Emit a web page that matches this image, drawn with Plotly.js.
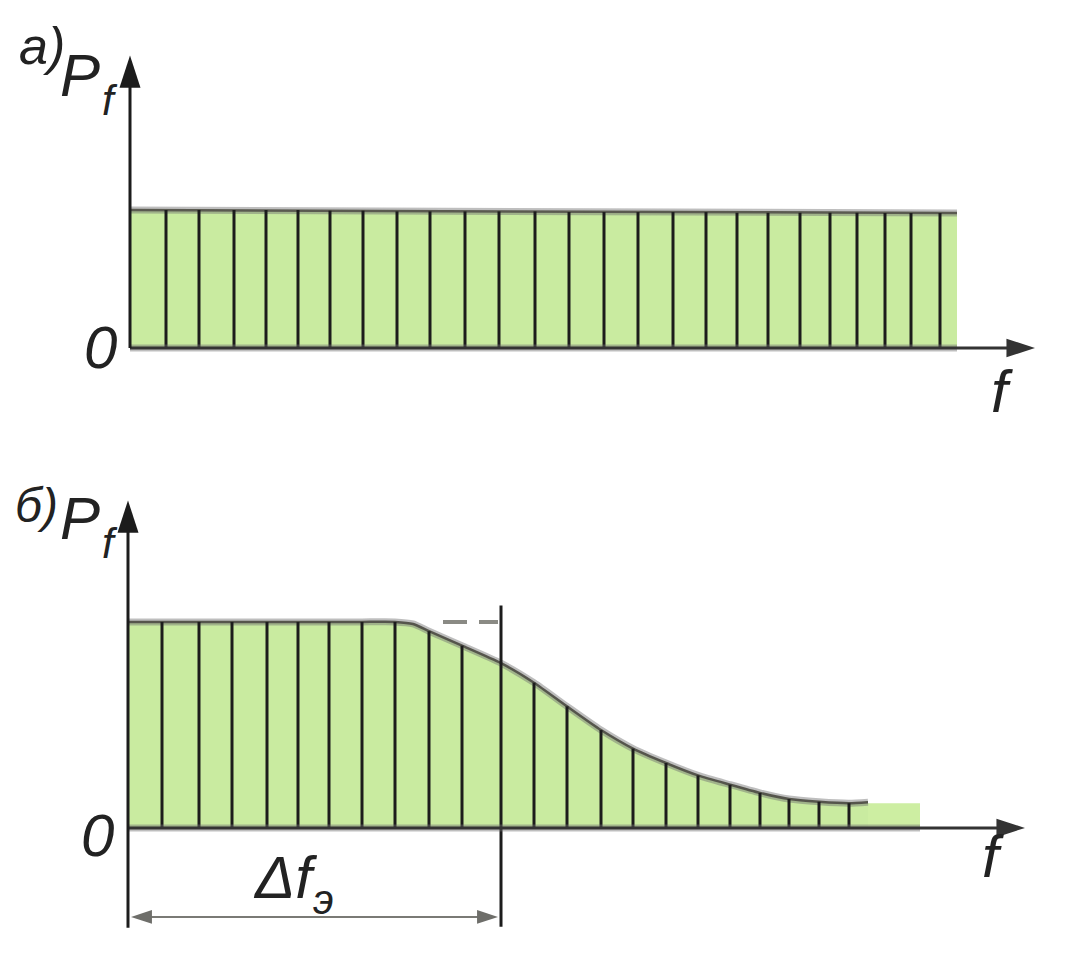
<!DOCTYPE html>
<html>
<head>
<meta charset="utf-8">
<script src="https://cdn.plot.ly/plotly-3.0.1.min.js"></script>
<style>
html,body{margin:0;padding:0;background:#fff;}
#chart{width:1073px;height:968px;}
</style>
</head>
<body>
<div id="chart"></div>
<script>
// ---------- DATA (f in arbitrary units, P normalised) ----------
// Panel а): flat (white-noise) spectrum
const topEdgeF = [0, 82.7];
const topEdgeP = [1.0, 0.978];
const topLineF = [3.6, 6.9, 10.4, 13.6, 16.8, 20.0, 23.3, 26.7, 30.0, 33.5, 36.9, 40.5, 43.9,
                  47.4, 50.8, 54.3, 57.6, 60.7, 63.8, 67.0, 70.0, 72.7, 75.5, 78.1, 81.0];
const topLineP = [1.0, 1.0, 1.0, 1.0, 1.0, 0.995, 0.995, 0.99, 0.99, 0.99, 0.99, 0.99, 0.985,
                  0.985, 0.985, 0.985, 0.985, 0.98, 0.98, 0.98, 0.98, 0.98, 0.978, 0.978, 0.978];
const topAxisEndF = 90.5;
const topAxisEndP = 2.12;

// Panel б): band-limited spectrum
const botCurveF = [0, 3.4, 7.1, 10.4, 13.9, 17.0, 20.1, 23.4, 26.7, 28.5, 30.1, 33.4, 37.3,
                   40.6, 43.9, 47.3, 50.5, 53.8, 57.0, 60.2, 63.2, 66.1, 69.1, 72.1, 74.0];
const botCurveP = [1.0, 1.0, 1.0, 1.0, 1.0, 1.0, 1.0, 1.0, 1.0, 0.99, 0.955, 0.885, 0.80,
                   0.705, 0.59, 0.475, 0.385, 0.315, 0.255, 0.21, 0.17, 0.14, 0.127, 0.12, 0.125];
const botLineF = [3.4, 7.1, 10.4, 13.9, 17.0, 20.1, 23.4, 26.7, 30.1, 33.4,
                  40.6, 43.9, 47.3, 50.5, 53.8, 57.0, 60.2, 63.2, 66.1, 69.1, 72.1];
const botLineP = [1.0, 1.0, 1.0, 1.0, 1.0, 1.0, 1.0, 1.0, 0.955, 0.885,
                  0.705, 0.59, 0.475, 0.385, 0.315, 0.255, 0.21, 0.17, 0.14, 0.127, 0.12];
const tailF = [74.0, 79.2];
const tailP = [0.12, 0.12];
const deltaF = 37.3;                 // Δf_э boundary
const deltaLineP = [1.08, -0.48];
const dashF = [31.5, 37.0];
const dashP = [1.0, 1.0];
const spanF = [0.3, 37.0];           // Δf_э dimension arrow
const spanP = -0.432;
const botAxisEndF = 89.7;
const botAxisTopP = 1.59;
const botAxisBottomP = -0.485;

// ---------- helpers ----------
const GREEN = '#c9eba0';
const INK = '#1c1c1c';
function stems(fs, ps) {
  const x = [], y = [];
  fs.forEach((f, i) => { x.push(f, f, null); y.push(0, ps[i], null); });
  return {x, y};
}
const W = 1073, H = 968;
const px = v => v / W, py = v => 1 - v / H;

const tS = stems(topLineF, topLineP);
const bS = stems(botLineF, botLineP);

function line(xa, ya, x, y, color, width, extra) {
  return Object.assign({x: x, y: y, xaxis: xa, yaxis: ya, type: 'scatter', mode: 'lines',
    line: {color: color, width: width}, hoverinfo: 'skip'}, extra || {});
}
function head(xa, ya, x, y, angle, color, size) {
  return {x: [x], y: [y], xaxis: xa, yaxis: ya, type: 'scatter', mode: 'markers',
    marker: {symbol: 'arrow', size: size, angle: angle, color: color, line: {width: 0}},
    hoverinfo: 'skip'};
}
const HALO = 'rgba(110,110,110,0.45)';
const spline = {shape: 'spline', smoothing: 0.6};

const traces = [
  // top panel
  line('x', 'y', topEdgeF, topEdgeP, GREEN, 0, {fill: 'tozeroy', fillcolor: GREEN}),
  line('x', 'y', topEdgeF, topEdgeP, HALO, 7),
  line('x', 'y', topEdgeF, topEdgeP, '#5a5a50', 2.5),
  line('x', 'y', tS.x, tS.y, INK, 3),
  line('x', 'y', [0, topEdgeF[1]], [0, 0], HALO, 7),
  line('x', 'y', [0, topAxisEndF - 1.5], [0, 0], '#333', 3),
  head('x', 'y', topAxisEndF, 0, 90, '#333', 30),
  line('x', 'y', [0, 0], [0, topAxisEndP - 0.1], INK, 3),
  head('x', 'y', 0, topAxisEndP, 0, INK, 34),

  // bottom panel
  line('x2', 'y2', tailF, tailP, '#cdeea2', 0, {fill: 'tozeroy', fillcolor: '#cdeea2'}),
  {x: botCurveF, y: botCurveP, xaxis: 'x2', yaxis: 'y2', type: 'scatter', mode: 'lines',
   fill: 'tozeroy', fillcolor: GREEN, line: Object.assign({width: 0}, spline), hoverinfo: 'skip'},
  {x: botCurveF, y: botCurveP, xaxis: 'x2', yaxis: 'y2', type: 'scatter', mode: 'lines',
   line: Object.assign({color: HALO, width: 7}, spline), hoverinfo: 'skip'},
  {x: botCurveF, y: botCurveP, xaxis: 'x2', yaxis: 'y2', type: 'scatter', mode: 'lines',
   line: Object.assign({color: '#55554c', width: 2.5}, spline), hoverinfo: 'skip'},
  line('x2', 'y2', bS.x, bS.y, INK, 3),
  line('x2', 'y2', [deltaF, deltaF], deltaLineP, INK, 3),
  {x: dashF, y: dashP, xaxis: 'x2', yaxis: 'y2', type: 'scatter', mode: 'lines',
   line: {color: '#8a8a84', width: 4, dash: '24px,12px'}, hoverinfo: 'skip'},
  line('x2', 'y2', [0, tailF[1]], [0, 0], HALO, 7),
  line('x2', 'y2', [0, botAxisEndF - 1.5], [0, 0], '#333', 3),
  head('x2', 'y2', botAxisEndF, 0, 90, '#333', 30),
  line('x2', 'y2', [0, 0], [botAxisBottomP, botAxisTopP - 0.07], INK, 3),
  head('x2', 'y2', 0, botAxisTopP, 0, INK, 34),
  line('x2', 'y2', [spanF[0] + 1, spanF[1] - 1], [spanP, spanP], '#7a7a75', 2),
  head('x2', 'y2', spanF[1], spanP, 90, '#6e6e6a', 22),
  head('x2', 'y2', spanF[0], spanP, -90, '#6e6e6a', 22)
];

const FONT = 'Liberation Sans, Arial, sans-serif';
function label(txt, x, y, size, anchor) {
  return {xref: 'paper', yref: 'paper', x: px(x), y: py(y), xanchor: anchor || 'center', yanchor: 'middle',
    text: txt, showarrow: false,
    font: {family: FONT, size: size, color: '#222', style: 'italic'}};
}

const annotations = [
  label('а)', 42, 46, 52),
  label('P', 58, 76, 60, 'left'),
  label('f', 100, 101, 42, 'left'),
  label('0', 100, 347, 60),
  label('f', 1002, 391, 60),
  label('б)', 36, 505, 48),
  label('P', 58, 518, 60, 'left'),
  label('f', 100, 543, 42, 'left'),
  label('0', 97, 835, 60),
  label('f', 993, 856, 60),
  label('Δf', 251, 877, 60, 'left'),
  label('э', 311, 899, 42, 'left')
];

const hidden = {showgrid: false, zeroline: false, showline: false, showticklabels: false,
                ticks: '', fixedrange: true};
const layout = {
  width: W, height: H, margin: {l: 0, r: 0, t: 0, b: 0},
  paper_bgcolor: '#ffffff', plot_bgcolor: 'rgba(0,0,0,0)', showlegend: false,
  xaxis: Object.assign({}, hidden, {domain: [0, 1], range: [-13, 94.3], anchor: 'y'}),
  yaxis: Object.assign({}, hidden, {domain: [py(440), 1], range: [-0.667, 2.522], anchor: 'x'}),
  xaxis2: Object.assign({}, hidden, {domain: [0, 1], range: [-12.8, 94.5], anchor: 'y2'}),
  yaxis2: Object.assign({}, hidden, {domain: [0, py(460)], range: [-0.680, 1.786], anchor: 'x2'}),
  annotations: annotations
};

Plotly.newPlot('chart', traces, layout, {displayModeBar: false, staticPlot: true});
</script>
</body>
</html>
